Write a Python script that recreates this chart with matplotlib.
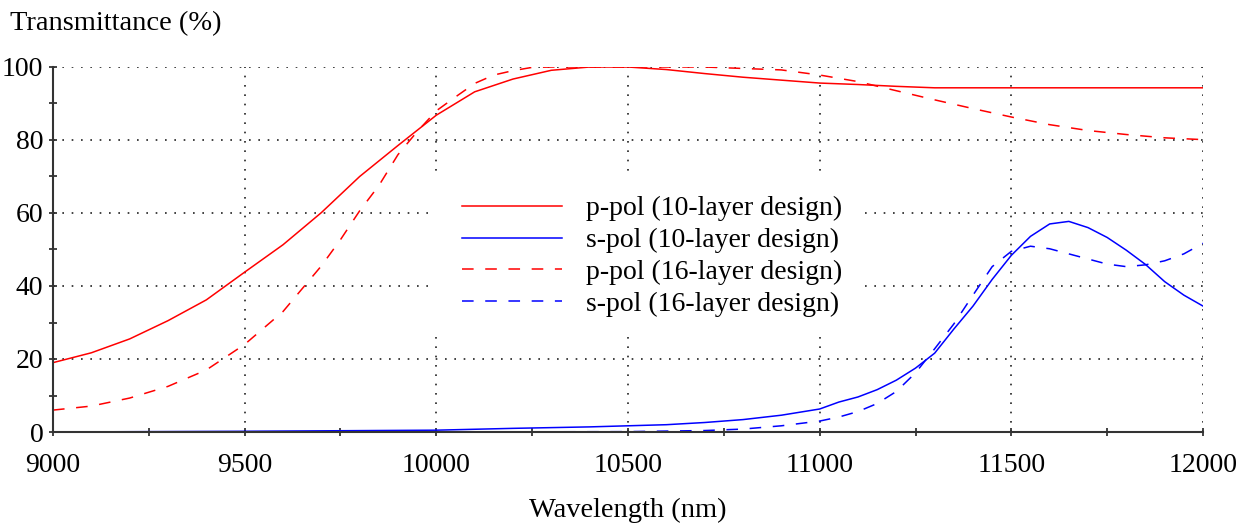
import matplotlib as mpl
mpl.use('Agg')
import matplotlib.pyplot as plt
from matplotlib.ticker import MultipleLocator
from matplotlib.patches import Rectangle

plt.rcParams['font.family'] = ['Liberation Serif', 'DejaVu Serif']

# p-pol, 10-layer design
p10_wl = [9000, 9100, 9200, 9300, 9400, 9500, 9600, 9700, 9800, 9900, 10000, 10100, 10200,
          10300, 10400, 10500, 10600, 10700, 10800, 10900, 11000, 11100, 11200, 11300, 11500, 12000]
p10_t = [19.0, 21.7, 25.5, 30.5, 36.2, 43.8, 51.3, 60.1, 70.0, 78.5, 86.8, 93.2, 96.7,
         99.1, 100.0, 100.0, 99.3, 98.2, 97.2, 96.4, 95.6, 95.2, 94.7, 94.3, 94.3, 94.3]

# s-pol, 10-layer design
s10_wl = [9000, 9500, 10000, 10200, 10400, 10600, 10700, 10800, 10900, 11000, 11050, 11100,
          11150, 11200, 11250, 11300, 11350, 11400, 11450, 11500, 11550, 11600, 11650, 11700,
          11750, 11800, 11850, 11900, 11950, 12000]
s10_t = [0.0, 0.2, 0.5, 1.0, 1.4, 2.0, 2.6, 3.4, 4.6, 6.3, 8.2, 9.6,
         11.6, 14.2, 17.5, 21.6, 28.2, 34.5, 41.8, 48.4, 53.6, 57.0, 57.7, 56.0,
         53.3, 49.8, 45.9, 41.2, 37.5, 34.5]

# p-pol, 16-layer design
p16_wl = [9000, 9100, 9200, 9300, 9400, 9500, 9600, 9700, 9750, 9800, 9850, 9900, 9950, 10000,
          10050, 10100, 10150, 10200, 10250, 10300, 10500, 10700, 10800, 10900, 11000, 11100,
          11200, 11300, 11400, 11500, 11600, 11700, 11800, 11900, 12000]
p16_t = [6.0, 7.1, 9.3, 12.5, 17.0, 24.0, 33.0, 45.5, 52.7, 60.6, 67.5, 76.0, 82.3, 88.0,
         91.8, 95.5, 97.8, 99.0, 99.9, 100.0, 100.0, 100.0, 99.6, 99.2, 97.8, 96.0,
         93.5, 91.0, 88.6, 86.3, 84.2, 82.6, 81.5, 80.6, 80.1]

# s-pol, 16-layer design
s16_wl = [9000, 9500, 10000, 10500, 10700, 10800, 10900, 11000, 11050, 11100, 11150, 11200,
          11250, 11300, 11350, 11400, 11450, 11500, 11550, 11600, 11650, 11700, 11750, 11800,
          11850, 11900, 11950, 12000]
s16_t = [0.0, 0.0, 0.0, 0.1, 0.4, 0.8, 1.7, 3.0, 4.1, 5.6, 7.8, 11.1,
         16.2, 22.8, 29.6, 37.5, 45.3, 49.5, 50.9, 50.2, 48.8, 47.4, 46.0, 45.3,
         45.8, 46.9, 48.8, 51.7]

labels = ['p-pol (10-layer design)', 's-pol (10-layer design)',
          'p-pol (16-layer design)', 's-pol (16-layer design)']

fig = plt.figure(figsize=(12.53, 5.27), dpi=100)
ax = fig.add_axes([53/1253, 1-432/527, 1150/1253, 365/527])

dash = (0, (7.6, 7.6))
ax.plot(p10_wl, p10_t, color='#ff0000', lw=1.1, label=labels[0])
ax.plot(s10_wl, s10_t, color='#0000ff', lw=1.1, label=labels[1])
ax.plot(p16_wl, p16_t, color='#ff0000', lw=1.1, ls=dash, label=labels[2])
ax.plot(s16_wl, s16_t, color='#0000ff', lw=1.1, ls=dash, label=labels[3])

ax.set_xlim(9000, 12000)
ax.set_ylim(0, 100)
ax.xaxis.set_major_locator(MultipleLocator(500))
ax.xaxis.set_minor_locator(MultipleLocator(250))
ax.yaxis.set_major_locator(MultipleLocator(20))
ax.yaxis.set_minor_locator(MultipleLocator(10))
ax.grid(True, which='major', color='#222222', ls=(0, (1, 4.6)), lw=1.2)
ax.set_axisbelow(True)

for s in ['top', 'right']:
    ax.spines[s].set_visible(False)
for s in ['left', 'bottom']:
    ax.spines[s].set_color('#333333')
    ax.spines[s].set_linewidth(1.5)

ax.tick_params(which='both', direction='inout', length=6, width=1.2, color='#222222',
               labelsize=20)
ax.tick_params(axis='x', which='major', pad=12)
ax.tick_params(axis='y', which='major', pad=4)

# white block behind the legend hides the grid there
ax.add_patch(Rectangle((0.328, 0.266), 0.378, 0.430, transform=ax.transAxes,
                       facecolor='white', edgecolor='none', zorder=1))
ax.legend(loc='center', bbox_to_anchor=(0.521, 0.481), fontsize=20, frameon=False,
          handlelength=3.6, handletextpad=0.85, labelspacing=0.23)

fig.text(10/1253, 1-24/527, 'Transmittance (%)', fontsize=20.5, va='center', ha='left')
fig.text(628/1253, 1-510/527, 'Wavelength (nm)', fontsize=20.5, va='center', ha='center')

plt.savefig('out.png', dpi=100)
